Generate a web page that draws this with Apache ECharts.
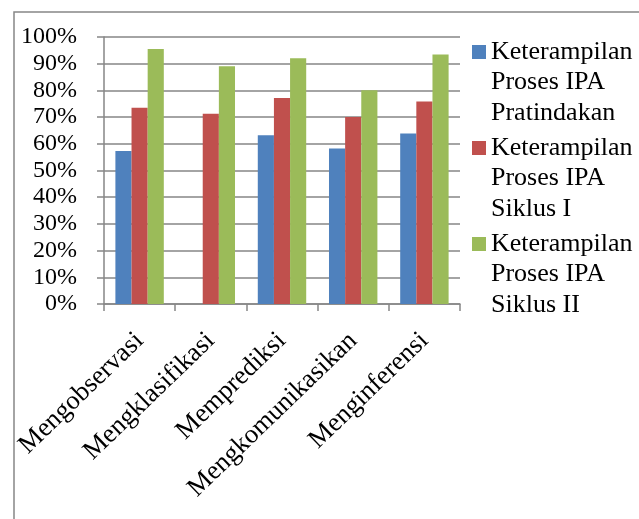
<!DOCTYPE html>
<html>
<head>
<meta charset="utf-8">
<script src="https://cdn.jsdelivr.net/npm/echarts@6/dist/echarts.min.js"></script>
<style>
html,body{margin:0;padding:0;background:#fff;}
#c{width:639px;height:519px;}
</style>
</head>
<body>
<div id="c"></div>
<script>
var categories = ['Mengobservasi', 'Mengklasifikasi', 'Memprediksi', 'Mengkomunikasikan', 'Menginferensi'];
var seriesNames = ['Keterampilan\nProses IPA\nPratindakan', 'Keterampilan\nProses IPA\nSiklus I', 'Keterampilan\nProses IPA\nSiklus II'];
var pratindakan = [0.573, 0, 0.632, 0.582, 0.639];
var siklus1 = [0.735, 0.713, 0.772, 0.70, 0.758];
var siklus2 = [0.955, 0.89, 0.92, 0.801, 0.934];
var yTicks = [0, 0.1, 0.2, 0.3, 0.4, 0.5, 0.6, 0.7, 0.8, 0.9, 1.0];

var colors = ['#4F81BD', '#C0504D', '#9BBB59'];
var FONT = 'Liberation Serif';
var LH = 30.5;

var chart = echarts.init(document.getElementById('c'), null, {renderer: 'canvas'});
var values = [pratindakan, siklus1, siklus2];
chart.setOption({
  animation: false,
  backgroundColor: '#fff',
  color: colors,
  grid: {left: 104, right: 179, top: 37, bottom: 215, containLabel: false},
  legend: {
    orient: 'vertical',
    left: 472,
    top: 52 - 2.5 * LH,
    itemWidth: 14,
    itemHeight: 14,
    itemGap: 96 - 5 * LH,
    icon: 'rect',
    padding: 0,
    selectedMode: false,
    data: seriesNames,
    formatter: function (name) { return '\n\n' + name; },
    textStyle: {
      fontFamily: FONT,
      fontSize: 26,
      color: '#000',
      lineHeight: LH
    },
    itemStyle: {borderWidth: 0}
  },
  xAxis: {
    type: 'category',
    data: categories,
    axisLine: {lineStyle: {color: '#868686', width: 1.5}},
    axisTick: {show: true, length: 7, lineStyle: {color: '#868686', width: 1.5}},
    axisLabel: {
      rotate: 44,
      margin: 33,
      verticalAlign: 'middle',
      fontFamily: FONT,
      fontSize: 26.5,
      lineHeight: 30,
      color: '#000',
      interval: 0
    }
  },
  yAxis: {
    type: 'value',
    min: 0,
    max: 1,
    interval: 0.1,
    axisLine: {show: true, lineStyle: {color: '#868686', width: 1.5}},
    axisTick: {show: true, inside: false, length: 7, lineStyle: {color: '#868686', width: 1.5}},
    splitLine: {show: true, lineStyle: {color: '#868686', width: 1.5}},
    axisLabel: {
      margin: 27,
      fontFamily: FONT,
      fontSize: 24,
      color: '#000',
      formatter: function (v) {
        var i = yTicks.findIndex(function (t) { return Math.abs(t - v) < 1e-6; });
        return Math.round(yTicks[i] * 100) + '%';
      }
    }
  },
  series: seriesNames.map(function (n, i) {
    return {
      name: n,
      type: 'bar',
      data: values[i],
      barGap: '0%',
      barCategoryGap: '32%',
      itemStyle: {color: colors[i]}
    };
  }),
  graphic: [{
    type: 'polyline',
    shape: {points: [[14, 519], [14, 12], [639, 12]]},
    style: {stroke: '#878787', lineWidth: 1.5, fill: null},
    silent: true
  }]
});
</script>
</body>
</html>
